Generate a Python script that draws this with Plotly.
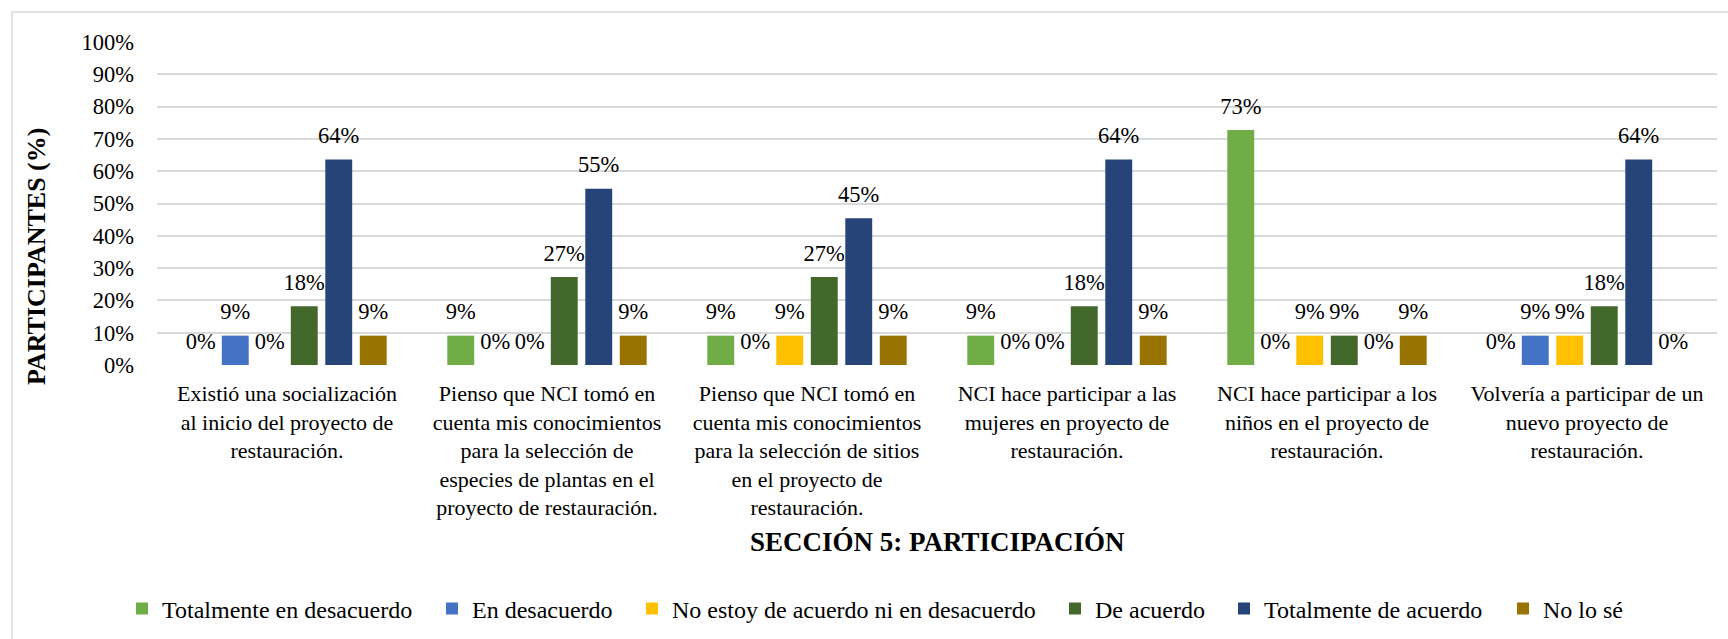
import plotly.graph_objects as go

# ---------------- data ----------------
categories = [
    "Existió una socialización<br>al inicio del proyecto de<br>restauración.",
    "Pienso que NCI tomó en<br>cuenta mis conocimientos<br>para la selección de<br>especies de plantas en el<br>proyecto de restauración.",
    "Pienso que NCI tomó en<br>cuenta mis conocimientos<br>para la selección de sitios<br>en el proyecto de<br>restauración.",
    "NCI hace participar a las<br>mujeres en proyecto de<br>restauración.",
    "NCI hace participar a los<br>niños en el proyecto de<br>restauración.",
    "Volvería a participar de un<br>nuevo proyecto de<br>restauración.",
]
series_names = [
    "Totalmente en desacuerdo",
    "En desacuerdo",
    "No estoy de acuerdo ni en desacuerdo",
    "De acuerdo",
    "Totalmente de acuerdo",
    "No lo sé",
]
totalmente_desacuerdo = [0.0, 9.09, 9.09, 9.09, 72.73, 0.0]
en_desacuerdo = [9.09, 0.0, 0.0, 0.0, 0.0, 9.09]
ni_acuerdo_ni_desacuerdo = [0.0, 0.0, 9.09, 0.0, 9.09, 9.09]
de_acuerdo = [18.18, 27.27, 27.27, 18.18, 9.09, 18.18]
totalmente_acuerdo = [63.64, 54.55, 45.45, 63.64, 0.0, 63.64]
no_lo_se = [9.09, 9.09, 9.09, 9.09, 9.09, 0.0]
y_tick_values = [0, 10, 20, 30, 40, 50, 60, 70, 80, 90, 100]
y_tick_labels = ["0%", "10%", "20%", "30%", "40%", "50%", "60%", "70%", "80%", "90%", "100%"]

series_values = [totalmente_desacuerdo, en_desacuerdo, ni_acuerdo_ni_desacuerdo,
                 de_acuerdo, totalmente_acuerdo, no_lo_se]
colors = ["#70AD47", "#4472C4", "#FFC000", "#43682B", "#264478", "#997300"]

# ---------------- layout geometry ----------------
W, H = 1728, 639
L, R, T, B = 157, 11, 42, 274
plot_w = W - L - R
plot_h = H - T - B


def px_x(px):
    return (px - L) / plot_w


def px_y(py):
    return (H - B - py) / plot_h


FONT = "Liberation Serif"
LABEL_PAD = 2.6  # gap (axis units) between the end of a bar and its data label
legend_square_px = [142, 452, 652, 1075, 1244, 1523]  # left edge of each legend key

fig = go.Figure()
for i, (name, vals, col) in enumerate(zip(series_names, series_values, colors)):
    fig.add_trace(go.Bar(
        x=categories, y=vals, name=name, marker_color=col,
        marker_line_width=0, offsetgroup=f"s{i}",
        legend="legend" if i == 0 else f"legend{i + 1}",
    ))
for i, vals in enumerate(series_values):
    fig.add_trace(go.Bar(
        x=categories, y=[LABEL_PAD] * len(vals), base=vals,
        marker_color="rgba(0,0,0,0)", marker_line_width=0,
        offsetgroup=f"s{i}", showlegend=False, hoverinfo="skip",
        text=[f"{v:.0f}%" for v in vals], textposition="outside",
        textfont=dict(family=FONT, size=22.5, color="#000000"),
        constraintext="none", cliponaxis=False,
    ))

legend_layouts = {}
for i, sx in enumerate(legend_square_px):
    key = "legend" if i == 0 else f"legend{i + 1}"
    legend_layouts[key] = dict(
        orientation="h", x=px_x(sx - 20), xanchor="left",
        y=px_y(609), yanchor="middle",
        font=dict(family=FONT, size=24, color="#000000"),
        bgcolor="rgba(0,0,0,0)", borderwidth=0,
    )

fig.update_layout(
    template="none",
    width=W, height=H,
    margin=dict(l=L, r=R, t=T, b=B, autoexpand=False),
    paper_bgcolor="white", plot_bgcolor="white",
    barmode="group", bargap=0.204, bargroupgap=0.22,
    font=dict(family=FONT, color="#000000"),
    showlegend=True,
    xaxis=dict(
        tickfont=dict(family=FONT, size=22, color="#000000"),
        showgrid=False, showline=False, zeroline=False, ticks="",
        ticklabelstandoff=13, automargin=False,
    ),
    yaxis=dict(
        range=[0, 100], tickmode="array", tickvals=y_tick_values, ticktext=y_tick_labels,
        tickfont=dict(family=FONT, size=22.5, color="#000000"),
        showgrid=True, gridcolor="#D9D9D9", gridwidth=1.5,
        zeroline=False, showline=False, ticks="",
        ticklabelstandoff=22, automargin=False,
    ),
    annotations=[
        dict(text="<b>SECCIÓN 5: PARTICIPACIÓN</b>", xref="paper", yref="paper",
             x=0.5, y=px_y(542), xanchor="center", yanchor="middle",
             showarrow=False, font=dict(family=FONT, size=27, color="#000000")),
        dict(text="<b>PARTICIPANTES (%)</b>", xref="paper", yref="paper",
             x=px_x(36), y=px_y(257), xanchor="center", yanchor="middle",
             textangle=-90, showarrow=False,
             font=dict(family=FONT, size=26, color="#000000")),
    ],
    shapes=[
        dict(type="rect", xref="paper", yref="paper",
             x0=px_x(12), x1=px_x(1760), y0=px_y(680), y1=px_y(12),
             line=dict(color="#D9D9D9", width=1.5), fillcolor="rgba(0,0,0,0)",
             layer="below"),
    ],
    **legend_layouts,
)

fig.write_html(
    "out.html",
    config={"displayModeBar": False},
    post_script="document.body.style.margin='0px';document.body.style.overflow='hidden';",
)
